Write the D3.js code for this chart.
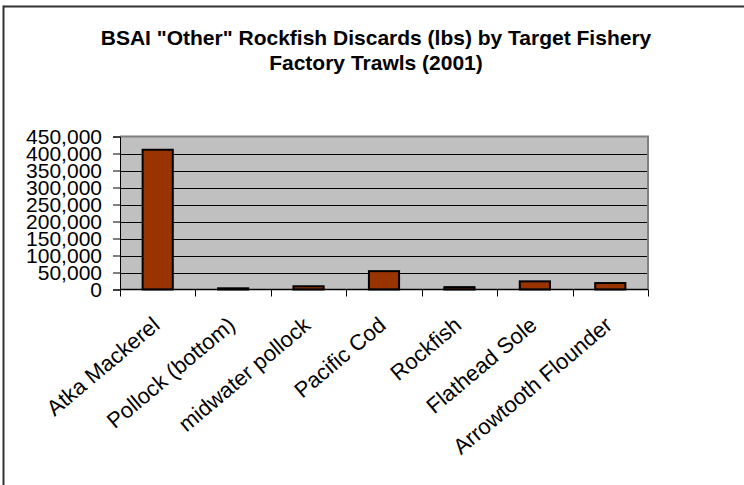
<!DOCTYPE html>
<html>
<head>
<meta charset="utf-8">
<script src="https://cdn.jsdelivr.net/npm/d3@7"></script>
<style>
  html, body { margin: 0; padding: 0; background: #fff; }
  svg { display: block; }
  text { font-family: Arial, "Liberation Sans", sans-serif; }
</style>
</head>
<body>
<script>
const categories = ["Atka Mackerel", "Pollock (bottom)", "midwater pollock", "Pacific Cod", "Rockfish", "Flathead Sole", "Arrowtooth Flounder"];
const discards = [411000, 3500, 9500, 54000, 7000, 24000, 19000];
const yTickValues = [0, 50000, 100000, 150000, 200000, 250000, 300000, 350000, 400000, 450000];
const titleLines = ["BSAI \"Other\" Rockfish Discards (lbs) by Target Fishery", "Factory Trawls (2001)"];

const W = 744, H = 485;
const plot = { left: 120, right: 648, top: 136.5, bottom: 289.5 };

const svg = d3.select("body").append("svg").attr("width", W).attr("height", H);

// outer chart border (only top and left visible)
svg.append("line").attr("x1", 3.5).attr("x2", W).attr("y1", 6.5).attr("y2", 6.5)
  .attr("stroke", "#333").attr("stroke-width", 2);
svg.append("line").attr("x1", 3.5).attr("x2", 3.5).attr("y1", 5.5).attr("y2", H)
  .attr("stroke", "#333").attr("stroke-width", 2);

// title
svg.append("g").selectAll("text").data(titleLines).join("text")
  .attr("x", 376).attr("y", (d, i) => 45 + i * 25)
  .attr("text-anchor", "middle")
  .attr("font-weight", "bold").attr("font-size", "21px").attr("fill", "#000")
  .text(d => d);

const xBand = d3.scaleBand().domain(categories).range([plot.left, plot.right]).padding(0);
const xBar = d3.scaleBand().domain(categories).range([plot.left, plot.right]).paddingInner(0.6).paddingOuter(0.3);
const y = d3.scaleLinear().domain([0, 450000]).range([plot.bottom, plot.top]);

// plot area
svg.append("rect").attr("x", plot.left).attr("y", plot.top)
  .attr("width", plot.right - plot.left).attr("height", plot.bottom - plot.top)
  .attr("fill", "#c0c0c0");
// grey border top/right
svg.append("path")
  .attr("d", `M${plot.left},${plot.top}H${plot.right}V${plot.bottom}`)
  .attr("fill", "none").attr("stroke", "#808080").attr("stroke-width", 2);

// gridlines
svg.append("g").selectAll("line").data(yTickValues.filter(v => v > 0 && v < 450000)).join("line")
  .attr("x1", plot.left).attr("x2", plot.right - 1)
  .attr("y1", d => Math.round(y(d)) + 0.5).attr("y2", d => Math.round(y(d)) + 0.5)
  .attr("stroke", "#000").attr("stroke-width", 1);

// bars
svg.append("g").selectAll("rect").data(categories).join("rect")
  .attr("x", d => xBar(d))
  .attr("width", xBar.bandwidth())
  .attr("y", (d, i) => y(discards[i]))
  .attr("height", (d, i) => plot.bottom - y(discards[i]))
  .attr("fill", "#993300").attr("stroke", "#000").attr("stroke-width", 2);

// y axis
const yAxis = svg.append("g").attr("transform", `translate(${plot.left},0)`)
  .call(d3.axisLeft(y).tickValues(yTickValues).tickSize(7).tickPadding(11).tickFormat(d3.format(",")));
yAxis.select(".domain").attr("stroke", "#000");
yAxis.selectAll("line").attr("stroke", "#000");
yAxis.selectAll("text").attr("font-size", "21px").attr("font-family", "Arial, 'Liberation Sans', sans-serif").attr("fill", "#000");

// x axis line and ticks at category boundaries
const boundaries = categories.map(c => xBand(c)).concat([plot.right]);
svg.append("line").attr("x1", plot.left).attr("x2", plot.right)
  .attr("y1", plot.bottom).attr("y2", plot.bottom).attr("stroke", "#000").attr("stroke-width", 1.5);
svg.append("g").selectAll("line").data(boundaries).join("line")
  .attr("x1", d => Math.round(d) + 0.5).attr("x2", d => Math.round(d) + 0.5)
  .attr("y1", plot.bottom).attr("y2", plot.bottom + 7)
  .attr("stroke", "#000").attr("stroke-width", 1);

// x labels rotated
svg.append("g").selectAll("text").data(categories).join("text")
  .attr("transform", d => `translate(${xBand(d) + xBand.bandwidth() / 2 - 1.5},${plot.bottom + 32}) rotate(-40)`)
  .attr("text-anchor", "end")
  .attr("dy", "0.35em")
  .attr("font-size", "22px").attr("fill", "#000")
  .text(d => d);
</script>
</body>
</html>
